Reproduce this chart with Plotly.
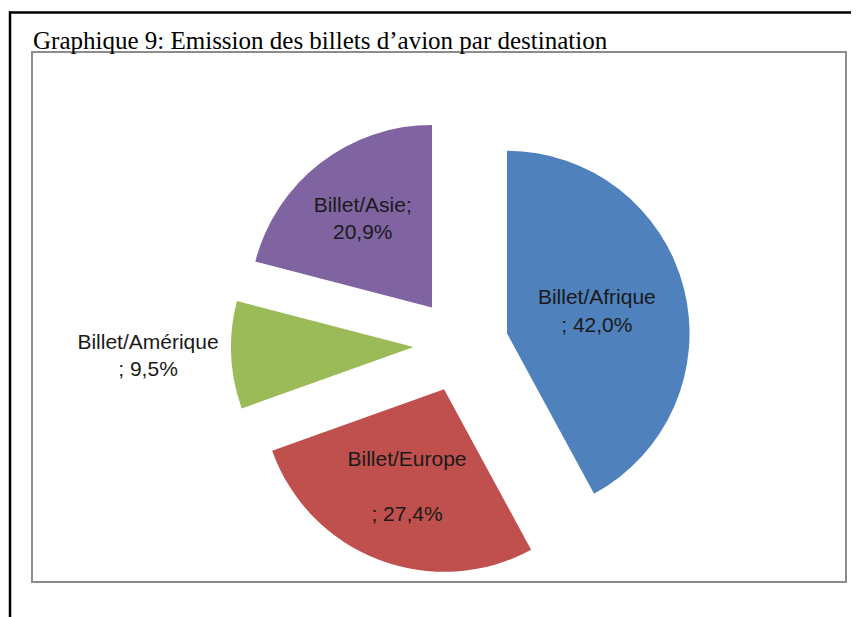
import plotly.graph_objects as go

categories = ["Billet/Afrique", "Billet/Europe", "Billet/Amérique", "Billet/Asie"]
values = [42.0, 27.4, 9.5, 20.9]
colors = ["#4F81BD", "#C0504D", "#9BBB59", "#8064A2"]
templates = [
    "%{label}<br>; %{value:.1f}%",
    "%{label}<br><br>; %{value:.1f}%",
    "%{label}<br>; %{value:.1f}%",
    "%{label};<br>%{value:.1f}%",
]
positions = ["inside", "inside", "outside", "inside"]
title_text = "Graphique 9: Emission des billets d\u2019avion par destination"

W, H = 859, 617
OFF = 8  # page body offset


def px(x):
    return (x - OFF) / W


def py(y):
    return 1 - (y - OFF) / H


CX, CY, HALF = 461, 345, 230

fig = go.Figure()
fig.add_trace(go.Pie(
    labels=categories,
    values=values,
    sort=False,
    direction="clockwise",
    rotation=0,
    pull=[0.26] * 4,
    marker=dict(colors=colors, line=dict(width=0)),
    texttemplate=templates,
    textposition=positions,
    insidetextorientation="horizontal",
    textfont=dict(family="Liberation Sans", size=21, color="#1a1a1a"),
    hoverinfo="label+percent",
    domain=dict(x=[px(CX - HALF), px(CX + HALF)], y=[py(CY + HALF), py(CY - HALF)]),
    showlegend=False,
))

fig.update_layout(
    width=W, height=H,
    margin=dict(l=0, r=0, t=0, b=0, autoexpand=False),
    paper_bgcolor="white",
    plot_bgcolor="white",
    separators=", ",
    shapes=[
        dict(type="line", xref="paper", yref="paper", x0=px(9), x1=1.0, y0=py(12.5), y1=py(12.5),
             line=dict(color="black", width=2.5)),
        dict(type="line", xref="paper", yref="paper", x0=px(10), x1=px(10), y0=py(11.5), y1=0,
             line=dict(color="black", width=2.5)),
        dict(type="rect", xref="paper", yref="paper", x0=px(32), x1=px(846), y0=py(582), y1=py(52),
             line=dict(color="#8c8c8c", width=2)),
    ],
    annotations=[
        dict(text=title_text, xref="paper", yref="paper", x=px(31), y=py(40), xanchor="left",
             yanchor="middle", showarrow=False,
             font=dict(family="Liberation Serif", size=25, color="black")),
    ],
)

fig.write_html("out.html")
